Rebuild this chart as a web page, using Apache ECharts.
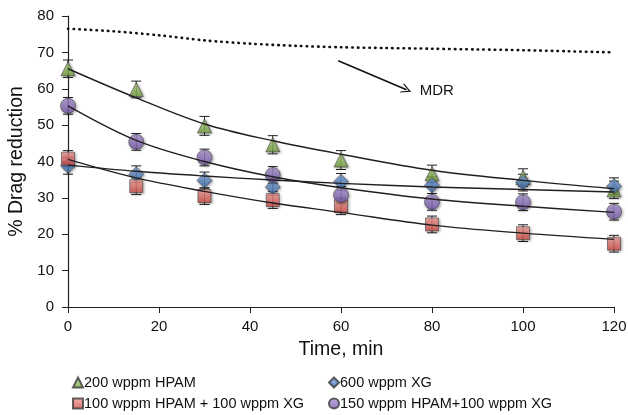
<!DOCTYPE html>
<html>
<head>
<meta charset="utf-8">
<script src="https://cdn.jsdelivr.net/npm/echarts@6/dist/echarts.min.js"></script>
<style>
  html, body { margin: 0; padding: 0; background: #fff; }
  #chart { width: 628px; height: 415px; }
</style>
</head>
<body>
<div id="chart"></div>
<script>
// measured points
const time = [0, 15, 30, 45, 60, 80, 100, 120]
const hpam = [65.5, 59.8, 49.8, 44.6, 40.4, 36.6, 35.6, 32.2]
const xg = [38.8, 36.5, 34.8, 33.0, 34.4, 33.5, 34.2, 33.2]
const mixA = [40.8, 33.2, 30.5, 29.4, 27.7, 22.7, 20.3, 17.4]
const mixB = [55.3, 45.4, 41.1, 36.3, 30.8, 28.9, 28.8, 26.2]

// error (+/-)
const hpamErr = [2.4, 2.3, 2.6, 2.5, 2.6, 2.4, 2.4, 2.4]
const xgErr = [2.3, 2.3, 2.3, 2.3, 2.3, 2.3, 2.3, 2.3]
const mixAErr = [2.2, 2.3, 2.3, 2.3, 2.3, 2.3, 2.3, 2.3]
const mixBErr = [2.3, 2.3, 2.3, 2.3, 2.3, 2.3, 2.3, 2.3]

// trend lines
const fitTime = [0, 15, 30, 45, 60, 80, 100, 120]
const hpamFit = [65.5, 57.5, 50.3, 45.7, 42.0, 37.6, 34.8, 32.5]
const xgFit = [39.0, 37.3, 36.0, 34.9, 34.0, 33.0, 32.3, 31.6]
const mixAFit = [40.6, 35.5, 31.8, 28.6, 26.0, 22.5, 20.3, 18.6]
const mixBFit = [55.3, 45.8, 40.0, 35.8, 32.8, 29.7, 27.7, 26.0]

// MDR asymptote
const mdrTime = [0, 10, 20, 30, 40, 50, 60, 70, 80, 90, 100, 110, 120]
const mdr = [76.5, 75.8, 74.7, 73.3, 72.4, 71.8, 71.4, 71.2, 71.0, 70.8, 70.6, 70.3, 70.0]

// annotation (data coords)
const arrowFrom = [59.4, 67.7]
const arrowTo = [74.4, 59.7]
const mdrLabelAt = [77.3, 59.4]

const names = ['200 wppm HPAM', '600 wppm XG', '100 wppm HPAM + 100 wppm XG', '150 wppm HPAM+100 wppm XG']

const font = "'Liberation Sans', Arial, sans-serif"
const ink = '#231f20'

function grad(top, bottom) {
  return new echarts.graphic.LinearGradient(0, 0, 0, 1, [
    { offset: 0, color: top },
    { offset: 1, color: bottom }
  ])
}

const markerStyle = (top, bottom) => ({
  color: grad(top, bottom),
  borderColor: '#3a3a3a',
  borderWidth: 0.7,
  shadowBlur: 3,
  shadowColor: 'rgba(0,0,0,0.45)',
  shadowOffsetX: 1,
  shadowOffsetY: 1
})

function pairs(xs, ys) {
  return xs.map((x, i) => [x, ys[i]])
}

function errData(ys, errs) {
  return time.map((t, i) => [t, ys[i] - errs[i], ys[i] + errs[i]])
}

function errorBar(params, api) {
  const x = api.value(0)
  const top = api.coord([x, api.value(2)])
  const bot = api.coord([x, api.value(1)])
  const w = 5
  const style = { stroke: ink, lineWidth: 1 }
  return {
    type: 'group',
    children: [
      { type: 'line', shape: { x1: top[0], y1: top[1], x2: bot[0], y2: bot[1] }, style },
      { type: 'line', shape: { x1: top[0] - w, y1: top[1], x2: top[0] + w, y2: top[1] }, style },
      { type: 'line', shape: { x1: bot[0] - w, y1: bot[1], x2: bot[0] + w, y2: bot[1] }, style }
    ]
  }
}

function scatter(name, ys, symbol, size, style) {
  return {
    name,
    type: 'scatter',
    data: pairs(time, ys),
    symbol,
    symbolSize: size,
    itemStyle: style,
    z: 4
  }
}

function fit(ys) {
  return {
    type: 'line',
    data: pairs(fitTime, ys),
    smooth: 0.35,
    showSymbol: false,
    silent: true,
    lineStyle: { color: ink, width: 1.4 },
    z: 5
  }
}

function bars(ys, errs) {
  return {
    type: 'custom',
    renderItem: errorBar,
    data: errData(ys, errs),
    silent: true,
    z: 3
  }
}

const legendText = { fontSize: 14.5, color: '#111', lineHeight: 15, fontFamily: font, padding: [0, 0, 0, -4] }

const chart = echarts.init(document.getElementById('chart'))

const option = {
  animation: false,
  textStyle: { fontFamily: font },
  grid: {
    left: 68,
    right: 14,
    top: 16,
    bottom: 108,
    outerBoundsMode: 'none'
  },
  xAxis: {
    type: 'value',
    min: 0,
    max: 120,
    interval: 20,
    name: 'Time, min',
    nameLocation: 'middle',
    nameGap: 33,
    nameTextStyle: { fontSize: 19.5, color: '#111', fontFamily: font },
    axisLine: { lineStyle: { color: ink, width: 1.2 } },
    axisTick: { show: true, length: 6, lineStyle: { color: ink } },
    axisLabel: { fontSize: 15, color: '#111', margin: 12, fontFamily: font },
    splitLine: { show: false }
  },
  yAxis: {
    type: 'value',
    min: 0,
    max: 80,
    interval: 10,
    name: '% Drag reduction',
    nameLocation: 'middle',
    nameGap: 39,
    nameTextStyle: { fontSize: 19.5, color: '#111', fontFamily: font },
    axisLine: { show: true, lineStyle: { color: ink, width: 1.2 } },
    axisTick: { show: true, length: 6, lineStyle: { color: ink } },
    axisLabel: { fontSize: 15, color: '#111', margin: 14, fontFamily: font },
    splitLine: { show: false }
  },
  legend: [
    {
      data: [names[0], names[2]],
      orient: 'vertical',
      left: 72,
      top: 375,
      itemWidth: 10,
      itemHeight: 10,
      itemGap: 6,
      padding: 0,
      textStyle: legendText,
      selectedMode: false
    },
    {
      data: [names[1], names[3]],
      orient: 'vertical',
      left: 328,
      top: 375,
      itemWidth: 10,
      itemHeight: 10,
      itemGap: 6,
      padding: 0,
      textStyle: legendText,
      selectedMode: false
    }
  ],
  series: [
    {
      name: 'MDR',
      type: 'line',
      data: pairs(mdrTime, mdr),
      smooth: 0.3,
      showSymbol: false,
      silent: true,
      lineStyle: { color: '#111', width: 2.6, type: [0.5, 5.2], cap: 'round' },
      markLine: {
        silent: true,
        symbol: ['none', 'path://M0,10 L5,0 L10,10 L8.8,10 L5,2.6 L1.2,10 Z'],
        symbolSize: [10, 10],
        label: { show: false },
        lineStyle: { color: '#111', width: 1.6, type: 'solid' },
        data: [[{ coord: arrowFrom }, { coord: arrowTo }]]
      },
      markPoint: {
        silent: true,
        symbol: 'circle',
        symbolSize: 0,
        label: {
          show: true,
          position: 'right',
          distance: 0,
          formatter: 'MDR',
          fontSize: 15,
          color: '#111',
          fontFamily: font
        },
        data: [{ coord: mdrLabelAt }]
      },
      z: 2
    },
    bars(hpam, hpamErr),
    bars(xg, xgErr),
    bars(mixA, mixAErr),
    bars(mixB, mixBErr),
    scatter(names[0], hpam, 'triangle', 14, markerStyle('#b8da8c', '#76a640')),
    scatter(names[1], xg, 'diamond', 15, markerStyle('#80a8df', '#3d6cae')),
    scatter(names[2], mixA, 'rect', 13, markerStyle('#f4a19b', '#cf4843')),
    scatter(names[3], mixB, 'circle', 15, markerStyle('#ae98d6', '#7659ab')),
    fit(hpamFit),
    fit(xgFit),
    fit(mixAFit),
    fit(mixBFit)
  ]
}

chart.setOption(option)
window.addEventListener('resize', () => chart.resize())
</script>
</body>
</html>
